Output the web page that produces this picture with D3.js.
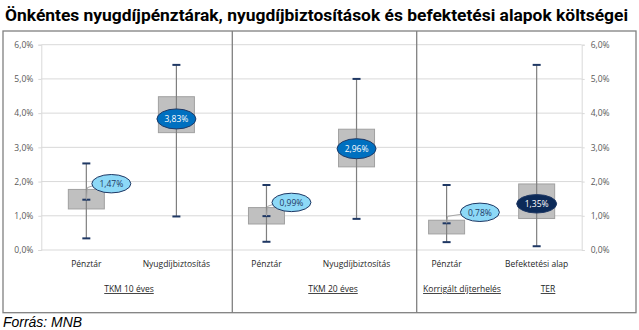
<!DOCTYPE html>
<html>
<head>
<meta charset="utf-8">
<script src="https://cdn.jsdelivr.net/npm/d3@7"></script>
<style>
  html, body { margin: 0; padding: 0; background: #fff; }
  svg { display: block; }
</style>
</head>
<body>
<svg id="chart" width="639" height="330"></svg>
<script>
// Cost ranges per product: whisker min/max, box q1/q3, highlighted mean value
const categories = ["Pénztár", "Nyugdíjbiztosítás", "Pénztár", "Nyugdíjbiztosítás", "Pénztár", "Befektetési alap"];
const minValues  = [0.34, 0.98, 0.24, 0.91, 0.23, 0.11];
const q1Values   = [1.20, 3.43, 0.76, 2.43, 0.47, 0.92];
const q3Values   = [1.77, 4.48, 1.24, 3.53, 0.87, 1.93];
const maxValues  = [2.53, 5.41, 1.90, 5.00, 1.90, 5.41];
const meanValues = [1.47, 3.83, 0.99, 2.96, 0.78, 1.35];
const labelKinds = ["light", "blue", "light", "blue", "light", "navy"];
const groupLabels = ["TKM 10 éves", "TKM 20 éves", "Korrigált díjterhelés", "TER"];
const yTicks = [0, 1, 2, 3, 4, 5, 6];

const fmtPct = d => d.toFixed(1).replace(".", ",") + "%";
const fmtPct2 = d => d.toFixed(2).replace(".", ",") + "%";

const svg = d3.select("#chart");
const font = "'Open Sans', 'DejaVu Sans', sans-serif";

// Layout
const plot = { left: 41.3, right: 581.7, top: 44.7, bottom: 250 };
const frame = { x0: 3, y0: 31, x1: 636, y1: 312.7 };
const dividers = [232.3, 416.7];
const groupLabelX = [129, 333, 462, 548];
const labelOffsets = [[25, -16], [0, 0], [25, -13.7], [0, 0], [33.3, -11], [0, 0]];

const x = d3.scaleBand().domain(d3.range(categories.length)).range([plot.left, plot.right]).padding(0);
const y = d3.scaleLinear().domain([0, 6]).range([plot.bottom, plot.top]);
const cx = i => x(i) + x.bandwidth() / 2;

// Title
svg.append("text")
  .attr("x", 5).attr("y", 21)
  .attr("font-family", "Roboto, 'Liberation Sans', sans-serif")
  .attr("font-weight", "bold").attr("font-size", 17)
  .attr("textLength", 623).attr("lengthAdjust", "spacingAndGlyphs")
  .attr("fill", "#000")
  .text("Önkéntes nyugdíjpénztárak, nyugdíjbiztosítások és befektetési alapok költségei");

// Gridlines
svg.append("g").selectAll("line").data(yTicks).join("line")
  .attr("x1", plot.left).attr("x2", plot.right)
  .attr("y1", d => y(d)).attr("y2", d => y(d))
  .attr("stroke", "#d9d9d9").attr("stroke-width", 1);

// Left and right value axes
const axisL = svg.append("g").attr("transform", `translate(${plot.left},0)`)
  .call(d3.axisLeft(y).tickValues(yTicks).tickFormat(fmtPct).tickSize(3).tickPadding(5));
const axisR = svg.append("g").attr("transform", `translate(${plot.right},0)`)
  .call(d3.axisRight(y).tickValues(yTicks).tickFormat(fmtPct).tickSize(3).tickPadding(6));
[axisL, axisR].forEach(a => {
  a.select(".domain").attr("stroke", "#d9d9d9");
  a.selectAll(".tick line").attr("stroke", "#d9d9d9");
  a.selectAll(".tick text").attr("fill", "#595959").attr("font-family", font).attr("font-size", 8.5);
});

// Frame and panel dividers
svg.append("rect")
  .attr("x", frame.x0).attr("y", frame.y0)
  .attr("width", frame.x1 - frame.x0).attr("height", frame.y1 - frame.y0)
  .attr("fill", "none").attr("stroke", "#808080").attr("stroke-width", 1.3);
svg.append("g").selectAll("line").data(dividers).join("line")
  .attr("x1", d => d).attr("x2", d => d)
  .attr("y1", frame.y0).attr("y2", frame.y1)
  .attr("stroke", "#808080").attr("stroke-width", 1.3);

const idx = d3.range(categories.length);
const boxW = 36, capW = 8;

// Boxes
svg.append("g").selectAll("rect").data(idx).join("rect")
  .attr("x", i => cx(i) - boxW / 2)
  .attr("y", i => y(q3Values[i]))
  .attr("width", boxW)
  .attr("height", i => y(q1Values[i]) - y(q3Values[i]))
  .attr("fill", "#c0c0c0").attr("stroke", "#a0a0a0").attr("stroke-width", 1);

// Whiskers
svg.append("g").selectAll("line").data(idx).join("line")
  .attr("x1", cx).attr("x2", cx)
  .attr("y1", i => y(maxValues[i])).attr("y2", i => y(minValues[i]))
  .attr("stroke", "#7f7f7f").attr("stroke-width", 1.2);

// Caps at min and max, plus mean dash
const caps = [];
idx.forEach(i => {
  caps.push({ i, v: minValues[i] });
  caps.push({ i, v: maxValues[i] });
  if (labelKinds[i] === "light") caps.push({ i, v: meanValues[i] });
});
svg.append("g").selectAll("line").data(caps).join("line")
  .attr("x1", d => cx(d.i) - capW / 2).attr("x2", d => cx(d.i) + capW / 2)
  .attr("y1", d => y(d.v)).attr("y2", d => y(d.v))
  .attr("stroke", "#1f3864").attr("stroke-width", 2);

// Value labels in ellipses
const styles = {
  light: { fill: "#8dd9f7", text: "#1f3864", rx: 19.5, ry: 9.2 },
  blue:  { fill: "#0070c0", text: "#ffffff", rx: 19.5, ry: 10 },
  navy:  { fill: "#0c2a58", text: "#ffffff", rx: 20, ry: 9.2 }
};
const lbl = svg.append("g");
idx.forEach(i => {
  const s = styles[labelKinds[i]];
  const ex = cx(i) + labelOffsets[i][0];
  const ey = y(meanValues[i]) + labelOffsets[i][1];
  if (labelKinds[i] === "light") {
    lbl.append("polyline")
      .attr("points", [[ex - s.rx + 1, ey + 2], [cx(i) + 1, ey + 4], [cx(i), y(meanValues[i])]].map(p => p.join(",")).join(" "))
      .attr("fill", "none").attr("stroke", "#a6a6a6").attr("stroke-width", 1);
  }
  lbl.append("ellipse")
    .attr("cx", ex).attr("cy", ey).attr("rx", s.rx).attr("ry", s.ry)
    .attr("fill", s.fill).attr("stroke", "#1f3864").attr("stroke-width", 1);
  lbl.append("text")
    .attr("x", ex).attr("y", ey + 3.2)
    .attr("text-anchor", "middle")
    .attr("font-family", font).attr("font-size", 8.5)
    .attr("fill", s.text)
    .text(fmtPct2(meanValues[i]));
});

// Category labels
svg.append("g").selectAll("text").data(idx).join("text")
  .attr("x", cx).attr("y", 267)
  .attr("text-anchor", "middle")
  .attr("font-family", font).attr("font-size", 8.5)
  .attr("fill", "#262626")
  .text(i => categories[i]);

// Group labels (underlined)
svg.append("g").selectAll("text").data(groupLabels).join("text")
  .attr("x", (d, k) => groupLabelX[k]).attr("y", 292)
  .attr("text-anchor", "middle")
  .attr("font-family", font).attr("font-size", 8.5)
  .attr("fill", "#262626")
  .attr("text-decoration", "underline")
  .text(d => d);

// Source
svg.append("text")
  .attr("x", 3).attr("y", 326.5)
  .attr("font-family", "'Liberation Sans', Arial, sans-serif")
  .attr("font-style", "italic").attr("font-size", 14)
  .attr("textLength", 79).attr("lengthAdjust", "spacingAndGlyphs")
  .attr("fill", "#000")
  .text("Forrás: MNB");
</script>
</body>
</html>
